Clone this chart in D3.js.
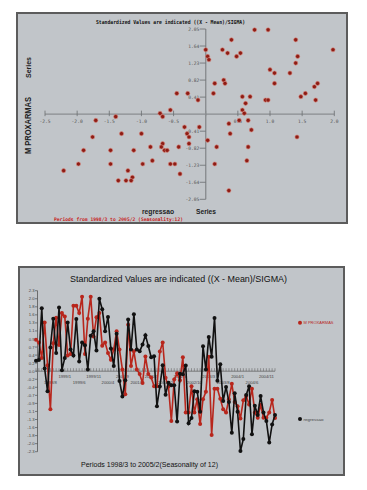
<!DOCTYPE html>
<html>
<head>
<meta charset="utf-8">
<script src="https://cdn.jsdelivr.net/npm/d3@7"></script>
<style>
    body { margin: 0; background: #fff; }
    svg { display: block; }
</style>
</head>
<body>
<div id="chart"></div>
<script>
// scatter values (standardized), one pair per month
var scatterRegressao = [0.76, 0.97, 0.40, 1.40, 0.00, 0.26, 0.34, 0.54, 0.48, 0.03,
    0.05, 1.98, 1.43, 1.40, 1.00, 1.07, 1.31, 0.28, 0.14, 0.30,
    1.07, 1.74, 1.69, -0.45, -0.28, 0.12, 1.55, 0.57, 0.69, 1.48,
    -0.12, 0.93, 0.97, 1.71, 0.62, -0.55, 0.57, -0.71, 0.60, -0.67,
    -1.40, -1.71, 0.52, 0.66, 0.36, -0.33, -0.10, 0.71, -1.31, -1.00,
    -0.29, 0.38, -1.76, -0.26, 1.42, 0.03, -0.26, -0.67, -0.86, -0.69,
    -0.42, 0.17, 0.66, -1.90, -1.48, -1.12, -0.64, -0.60, -0.83, 0.64,
    -1.98, -1.48, -0.98, -0.55, -0.48, 0.14, -2.21, -1.21, -0.40, -1.14,
    -1.36, -1.24, -1.16, 0.36];
var scatterProxarmas = [2.03, 2.03, 1.79, 1.79, 1.55, 1.55, 1.47, 1.47, 1.39, 1.39,
    1.31, 1.55, 1.39, 1.23, 1.07, 0.99, 0.99, 0.82, 0.74, 0.74,
    0.74, 0.74, 0.66, 0.50, 0.50, 0.50, 0.50, 0.42, 0.42, 0.42,
    0.34, 0.34, 0.34, 0.34, 0.26, 0.10, 0.10, 0.02, 0.02, -0.06,
    -0.06, -0.15, -0.15, -0.15, -0.23, -0.31, -0.31, -0.38, -0.47, -0.47,
    -0.47, -0.47, -0.55, -0.55, -0.55, -0.63, -0.71, -0.71, -0.79, -0.79,
    -0.79, -0.79, -0.79, -0.87, -0.87, -0.87, -0.87, -0.87, -1.12, -1.12,
    -1.20, -1.20, -1.20, -1.20, -1.20, -1.20, -1.36, -1.36, -1.44, -1.52,
    -1.60, -1.60, -1.60, -1.84];
var scatterXTicks = [-2.5, -2.0, -1.5, -1.0, -0.5, 0.5, 1.0, 1.5, 2.0];
var scatterYTicks = [2.05, 1.64, 1.23, 0.82, 0.41, -0.41, -0.82, -1.23, -1.64, -2.05];

// time series, 1998/3 .. 2005/2
var seriesProxarmas = [0.90, 0.82, 0.38, 1.39, 0.17, -1.09, 0.80, 1.53, 0.75, 1.66,
    1.56, 0.45, 0.49, 1.87, 1.87, 1.66, 2.13, 0.49, 1.50, 2.13,
    0.99, 1.54, 1.66, 0.73, 0.82, 0.52, 0.33, 0.62, 1.14, 0.62,
    0.05, -0.66, 1.33, 0.15, 0.57, 0.05, -0.08, -0.34, 0.42, -0.08,
    -0.18, -0.43, -0.43, 0.56, 0.82, -0.19, -0.44, -1.42, -0.24, -0.06,
    -0.26, 0.40, -1.18, -1.18, -0.43, -1.18, -0.80, -1.51, -0.80, -0.59,
    0.41, -1.82, -0.50, -0.50, -0.79, -1.09, -1.18, -0.80, -0.36, -0.88,
    -1.00, -1.35, -0.83, -0.71, -0.95, -0.50, -1.18, -1.33, -0.96, -1.33,
    -1.33, -1.18, -0.82, -1.34];
var seriesRegressao = [0.30, 0.32, 1.80, 0.08, -0.57, 0.68, 1.50, 0.52, 1.82, 0.03,
    0.38, 1.39, 0.62, 0.45, 1.49, 0.28, 0.82, 0.74, 0.05, 1.01,
    1.14, 0.59, 2.07, 1.77, 1.14, 1.55, 0.65, 0.15, 1.07, -0.28,
    -0.72, -0.26, 1.48, 0.62, 1.63, 0.62, 0.57, 0.76, 1.03, 0.72,
    0.40, 0.43, -1.00, -0.44, 0.17, -0.67, -0.33, -0.40, -0.40, -1.44,
    -0.07, -0.09, 0.16, -1.49, -1.34, -0.57, -0.59, -1.16, 0.71, 0.05,
    0.98, 0.41, 1.52, -0.27, 0.20, -0.85, -0.45, -0.88, -1.76, -0.63,
    -1.16, -2.28, -1.94, -0.68, -0.43, -1.80, -0.99, -1.25, -0.71, -1.18,
    -1.42, -2.04, -1.52, -1.25];
var lineYTickLabels = ["2.3", "2.0", "1.8", "1.6", "1.3", "1.1", "0.9", "0.7", "0.4", "0.2", "0.0",
    "-0.2", "-0.4", "-0.7", "-0.9", "-1.1", "-1.3", "-1.6", "-1.8", "-2.0", "-2.3"];

// month labels for the periods (categories)
var periods = [];
for (var k = 0; k < 84; k++) {
    var m = 3 + k;
    periods.push((1998 + Math.floor((m - 1) / 12)) + "/" + (((m - 1) % 12) + 1));
}

function init(){
    var w = 367;
    var h = 490;
    var panelFill = "#c1c5c9";
    var darkRed = "#8e1c14";
    var lineRed = "#b8261c";

    var svg = d3.select("#chart")
                .append("svg")
                .attr("width", w)
                .attr("height", h);

    // ---------- top panel: scatter ----------
    svg.append("rect")
        .attr("x", 17).attr("y", 13)
        .attr("width", 330).attr("height", 210)
        .attr("fill", panelFill)
        .attr("stroke", "#5c5c5c")
        .attr("stroke-width", 2);

    var sx = d3.scaleLinear().domain([-2.5, 2.0]).range([45, 334.3]);
    var sy = d3.scaleLinear().domain([-2.05, 2.05]).range([199.3, 29]);

    var top = svg.append("g");

    // x axis through zero
    top.append("line")
        .attr("x1", sx(-2.5)).attr("x2", sx(2.0))
        .attr("y1", sy(0)).attr("y2", sy(0))
        .attr("stroke", "#8a8d90").attr("stroke-width", 1.4);
    top.selectAll(".sxt")
        .data(scatterXTicks.concat([0]))
        .enter()
        .append("line")
        .attr("x1", function(d){ return sx(d); })
        .attr("x2", function(d){ return sx(d); })
        .attr("y1", sy(0) - 3.5).attr("y2", sy(0) + 2)
        .attr("stroke", "#6a6d70").attr("stroke-width", 0.8);
    top.selectAll(".sxl")
        .data(scatterXTicks)
        .enter()
        .append("text")
        .text(function(d){ return d.toFixed(1); })
        .attr("x", function(d){ return sx(d); })
        .attr("y", sy(0) + 9)
        .attr("text-anchor", "middle")
        .attr("font-family", "DejaVu Sans Mono")
        .attr("font-size", 4.6)
        .attr("fill", "#555");

    // y axis through zero
    top.append("line")
        .attr("x1", sx(0)).attr("x2", sx(0))
        .attr("y1", sy(2.05)).attr("y2", sy(-2.05))
        .attr("stroke", "#8a8d90").attr("stroke-width", 1.4);
    top.selectAll(".syt")
        .data(scatterYTicks)
        .enter()
        .append("line")
        .attr("x1", sx(0) - 6).attr("x2", sx(0))
        .attr("y1", function(d){ return sy(d); })
        .attr("y2", function(d){ return sy(d); })
        .attr("stroke", "#6a6d70").attr("stroke-width", 0.8);
    top.selectAll(".syl")
        .data(scatterYTicks)
        .enter()
        .append("text")
        .text(function(d){ return d.toFixed(2); })
        .attr("x", sx(0) - 6.5)
        .attr("y", function(d){ return sy(d) + 1.6; })
        .attr("text-anchor", "end")
        .attr("font-family", "DejaVu Sans Mono")
        .attr("font-size", 4.6)
        .attr("fill", "#555");

    // points
    top.selectAll("circle")
        .data(scatterRegressao)
        .enter()
        .append("circle")
        .attr("cx", function(d){ return sx(d); })
        .attr("cy", function(d, i){ return sy(scatterProxarmas[i]); })
        .attr("r", 2.1)
        .attr("fill", darkRed)
        .attr("stroke", "#d88a80")
        .attr("stroke-width", 0.6);

    // titles and labels
    top.append("text")
        .text("Standardized Values are indicated  ((X - Mean)/SIGMA)")
        .attr("x", 96).attr("y", 24)
        .attr("textLength", 149)
        .attr("lengthAdjust", "spacingAndGlyphs")
        .attr("font-family", "DejaVu Sans Mono")
        .attr("font-weight", "bold")
        .attr("font-size", 5.5)
        .attr("fill", "#111");
    top.append("text")
        .text("M PROXARMAS")
        .attr("transform", "translate(31,154) rotate(-90)")
        .attr("textLength", 57)
        .attr("lengthAdjust", "spacingAndGlyphs")
        .attr("font-family", "Liberation Sans")
        .attr("font-weight", "bold")
        .attr("font-size", 9)
        .attr("fill", "#222");
    top.append("text")
        .text("Series")
        .attr("transform", "translate(31,78) rotate(-90)")
        .attr("textLength", 21)
        .attr("lengthAdjust", "spacingAndGlyphs")
        .attr("font-family", "Liberation Sans")
        .attr("font-weight", "bold")
        .attr("font-size", 8)
        .attr("fill", "#222");
    top.append("text")
        .text("regressao")
        .attr("x", 142).attr("y", 213.5)
        .attr("textLength", 32)
        .attr("lengthAdjust", "spacingAndGlyphs")
        .attr("font-family", "Liberation Sans")
        .attr("font-weight", "bold")
        .attr("font-size", 7.5)
        .attr("fill", "#222");
    top.append("text")
        .text("Series")
        .attr("x", 196).attr("y", 213.5)
        .attr("textLength", 20)
        .attr("lengthAdjust", "spacingAndGlyphs")
        .attr("font-family", "Liberation Sans")
        .attr("font-weight", "bold")
        .attr("font-size", 7.5)
        .attr("fill", "#222");
    top.append("text")
        .text("Periods from 1998/3 to 2005/2 (Seasonality:12)")
        .attr("x", 54).attr("y", 220.5)
        .attr("textLength", 129)
        .attr("lengthAdjust", "spacingAndGlyphs")
        .attr("font-family", "DejaVu Sans Mono")
        .attr("font-weight", "bold")
        .attr("font-size", 4.8)
        .attr("fill", "#c8201a");

    // ---------- bottom panel: time series ----------
    svg.append("rect")
        .attr("x", 19).attr("y", 267)
        .attr("width", 325).attr("height", 208)
        .attr("fill", panelFill)
        .attr("stroke", "#5c5c5c")
        .attr("stroke-width", 2);

    var lx = d3.scalePoint().domain(periods).range([36, 275]);
    var ly = d3.scaleLinear().domain([-2.3, 2.3]).range([451.7, 290.7]);
    var axisX = 37.5;

    var bot = svg.append("g");

    bot.append("text")
        .text("Standardized Values are indicated  ((X - Mean)/SIGMA)")
        .attr("x", 70).attr("y", 281.5)
        .attr("textLength", 217)
        .attr("lengthAdjust", "spacingAndGlyphs")
        .attr("font-family", "Liberation Sans")
        .attr("font-size", 9.5)
        .attr("fill", "#111");

    // y axis with evenly spaced ticks
    var yTickVals = d3.range(lineYTickLabels.length).map(function(i){
        return 2.3 - i * 4.6 / (lineYTickLabels.length - 1);
    });
    bot.append("line")
        .attr("x1", axisX).attr("x2", axisX)
        .attr("y1", ly(2.3)).attr("y2", ly(-2.3))
        .attr("stroke", "#555").attr("stroke-width", 0.8);
    bot.selectAll(".lyt")
        .data(yTickVals)
        .enter()
        .append("line")
        .attr("x1", axisX - 2.5).attr("x2", axisX)
        .attr("y1", function(d){ return ly(d); })
        .attr("y2", function(d){ return ly(d); })
        .attr("stroke", "#555").attr("stroke-width", 0.7);
    bot.selectAll(".lyl")
        .data(yTickVals)
        .enter()
        .append("text")
        .text(function(d, i){ return lineYTickLabels[i]; })
        .attr("x", axisX - 3)
        .attr("y", function(d){ return ly(d) + 1.5; })
        .attr("text-anchor", "end")
        .attr("font-family", "Liberation Sans")
        .attr("font-size", 4.2)
        .attr("fill", "#444");

    // zero line with a tick per month
    bot.append("line")
        .attr("x1", lx(periods[0])).attr("x2", lx(periods[periods.length - 1]))
        .attr("y1", ly(0)).attr("y2", ly(0))
        .attr("stroke", "#666").attr("stroke-width", 0.8);
    bot.selectAll(".lxt")
        .data(periods)
        .enter()
        .append("line")
        .attr("x1", function(d){ return lx(d); })
        .attr("x2", function(d){ return lx(d); })
        .attr("y1", ly(0) - 3).attr("y2", ly(0))
        .attr("stroke", "#666").attr("stroke-width", 0.6);
    bot.selectAll(".lxl")
        .data(periods.filter(function(d, i){ return i > 0 && i % 5 === 0; }))
        .enter()
        .append("text")
        .text(function(d){ return d; })
        .attr("x", function(d){ return lx(d); })
        .attr("y", function(d){
            // alternate rows
            return periods.indexOf(d) % 10 === 0 ? ly(0) + 6.5 : ly(0) + 13;
        })
        .attr("text-anchor", "middle")
        .attr("font-family", "Liberation Sans")
        .attr("font-size", 4.2)
        .attr("fill", "#444");

    var line = d3.line()
        .x(function(d, i){ return lx(periods[i]); })
        .y(function(d){ return ly(d); });

    // red series then black on top
    [[seriesProxarmas, lineRed], [seriesRegressao, "#111"]].forEach(function(s){
        bot.append("path")
            .datum(s[0])
            .attr("d", line)
            .attr("fill", "none")
            .attr("stroke", s[1])
            .attr("stroke-width", 1.6);
        bot.append("g")
            .selectAll("circle")
            .data(s[0])
            .enter()
            .append("circle")
            .attr("cx", function(d, i){ return lx(periods[i]); })
            .attr("cy", function(d){ return ly(d); })
            .attr("r", 2)
            .attr("fill", s[1]);
    });

    // legend
    bot.append("circle").attr("cx", 300).attr("cy", 322.7).attr("r", 2).attr("fill", lineRed);
    bot.append("text")
        .text("M PROXARMAS")
        .attr("x", 303.5).attr("y", 324.2)
        .attr("textLength", 30)
        .attr("lengthAdjust", "spacingAndGlyphs")
        .attr("font-family", "Liberation Sans")
        .attr("font-size", 4.2)
        .attr("fill", lineRed);
    bot.append("circle").attr("cx", 300).attr("cy", 419).attr("r", 2).attr("fill", "#111");
    bot.append("text")
        .text("regressao")
        .attr("x", 303.5).attr("y", 420.5)
        .attr("textLength", 20)
        .attr("lengthAdjust", "spacingAndGlyphs")
        .attr("font-family", "Liberation Sans")
        .attr("font-size", 4.2)
        .attr("fill", "#444");

    bot.append("text")
        .text("Periods 1998/3 to 2005/2(Seasonality of 12)")
        .attr("x", 81).attr("y", 467)
        .attr("textLength", 137)
        .attr("lengthAdjust", "spacingAndGlyphs")
        .attr("font-family", "Liberation Sans")
        .attr("font-size", 7.5)
        .attr("fill", "#111");
}

window.onload = init;
</script>
</body>
</html>
